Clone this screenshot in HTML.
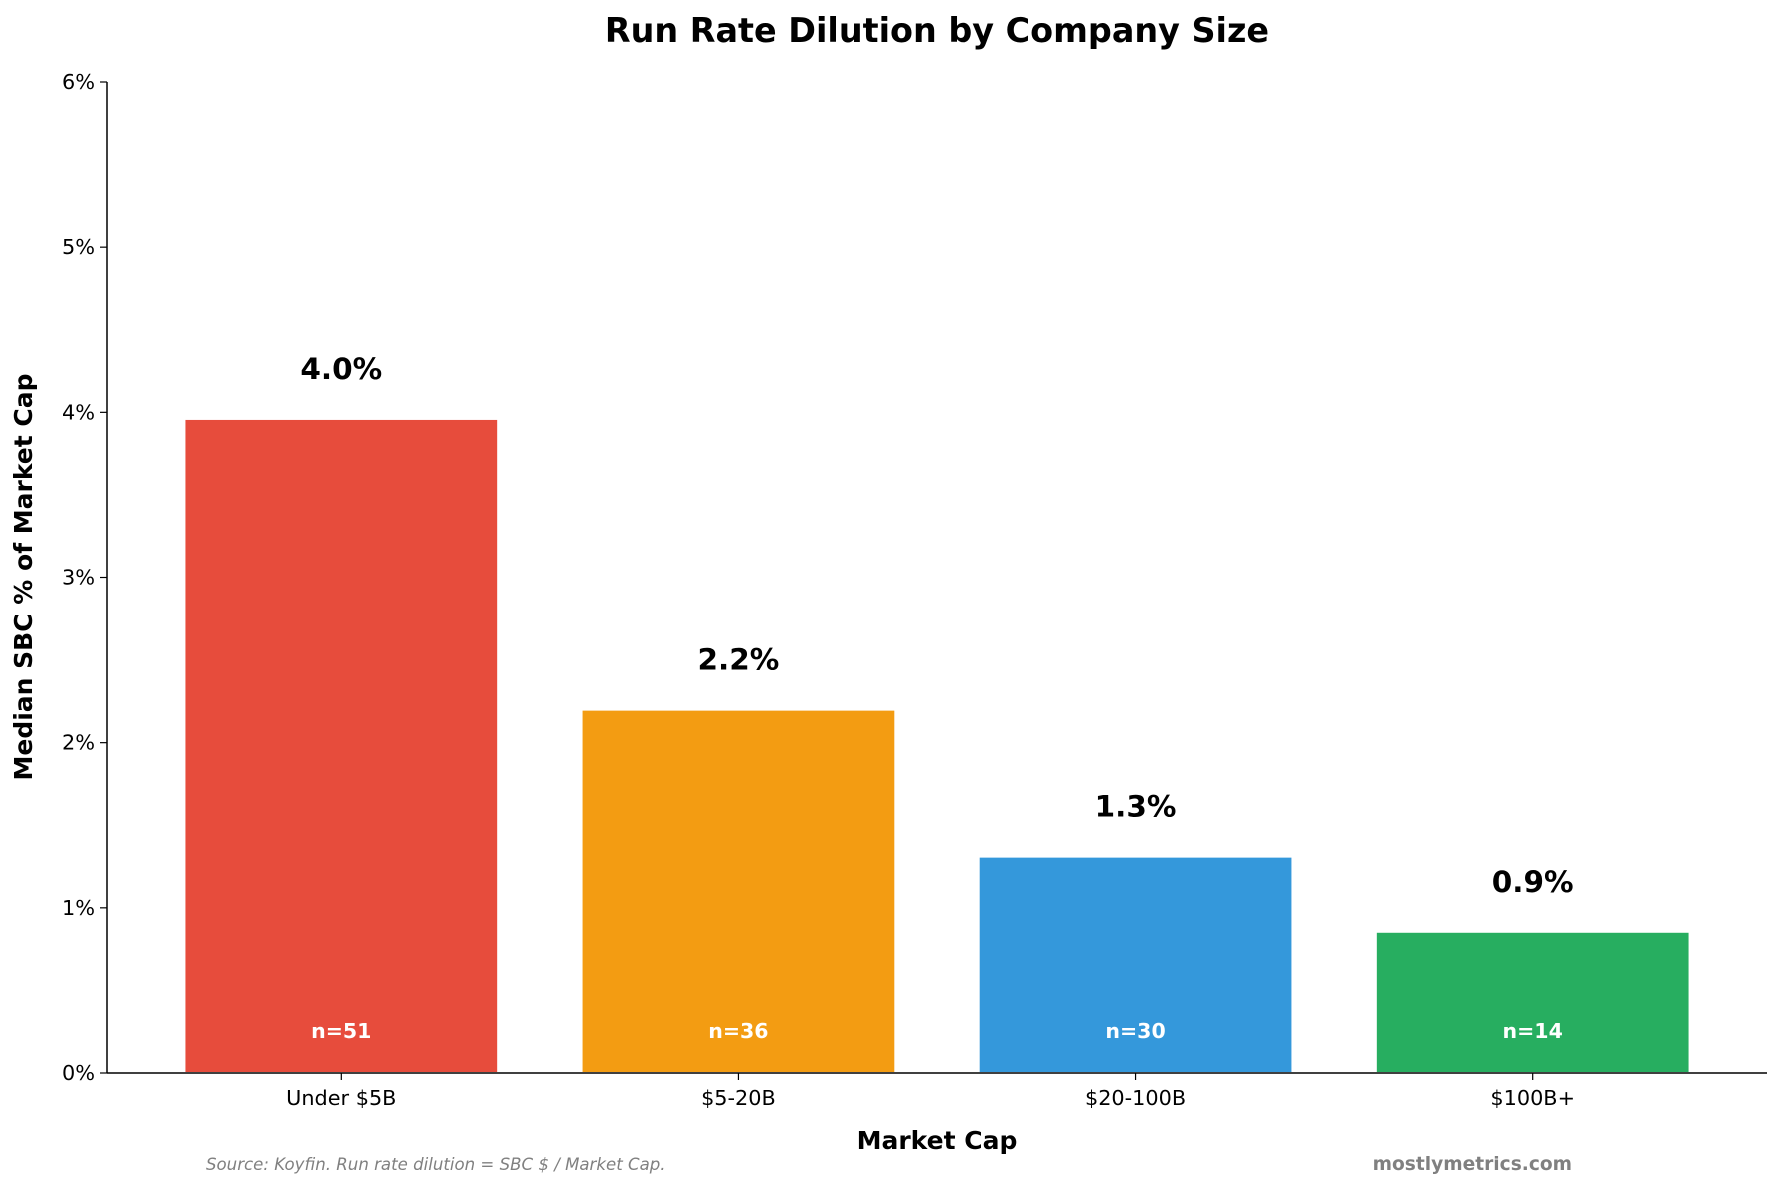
<!DOCTYPE html>
<html><head><meta charset="utf-8"><style>
html,body{margin:0;padding:0;background:#fff;}
svg text{font-family:"DejaVu Sans","Liberation Sans",sans-serif;}
</style></head><body>
<svg width="1782" height="1189" viewBox="0 0 1782 1189" xmlns="http://www.w3.org/2000/svg">
<text x="937" y="42" text-anchor="middle" font-size="33.4" font-weight="bold" fill="#000">Run Rate Dilution by Company Size</text>
<g id="plot"></g>
<text transform="translate(32,577) rotate(-90)" text-anchor="middle" font-size="25" font-weight="bold">Median SBC % of Market Cap</text>
<text x="937" y="1149" text-anchor="middle" font-size="25" font-weight="bold">Market Cap</text>
<text x="206" y="1170" font-size="16.6" font-style="italic" fill="#808080">Source: Koyfin. Run rate dilution = SBC $ / Market Cap.</text>
<text x="1572" y="1170" text-anchor="end" font-size="18.6" font-weight="bold" fill="#808080">mostlymetrics.com</text>
</svg>
<script>
const categories=["Under $5B","$5-20B","$20-100B","$100B+"];
const values=[3.96,2.2,1.31,0.855];
const valueLabels=["4.0%","2.2%","1.3%","0.9%"];
const counts=["n=51","n=36","n=30","n=14"];
const colors=["#e74c3c","#f39c12","#3498db","#27ae60"];
const yTicks=[0,1,2,3,4,5,6];
const NS="http://www.w3.org/2000/svg";
const L=107,R=1767,T=82,B=1073;
const xMin=-0.59,xMax=3.59,yMax=6;
const xs=v=>L+(v-xMin)/(xMax-xMin)*(R-L);
const ys=v=>B-v/yMax*(B-T);
const g=document.getElementById('plot');
function mk(t,a){const e=document.createElementNS(NS,t);for(const k in a)e.setAttribute(k,a[k]);return e;}
categories.forEach((c,i)=>{
  const x0=xs(i-0.395),x1=xs(i+0.395);
  const r=mk('rect',{x:x0,y:ys(values[i]),width:x1-x0,height:ys(0)-ys(values[i]),fill:colors[i],stroke:'#fff','stroke-width':2});
  
  
  g.appendChild(r);
  const vl=mk('text',{x:xs(i),y:ys(values[i])-40,'text-anchor':'middle','font-size':29.5,'font-weight':'bold'});
  vl.textContent=valueLabels[i];
  
  
  g.appendChild(vl);
  const nl=mk('text',{x:xs(i),y:ys(0)-35,'text-anchor':'middle','font-size':20.5,'font-weight':'bold',fill:'#fff'});
  nl.textContent=counts[i];
  
  
  g.appendChild(nl);
  const tk=mk('line',{x1:xs(i),x2:xs(i),y1:B,y2:B+7,stroke:'#000','stroke-width':1.2});
  
  
  g.appendChild(tk);
  const tl=mk('text',{x:xs(i),y:B+32,'text-anchor':'middle','font-size':20.8});
  tl.textContent=c;
  
  
  g.appendChild(tl);
});
yTicks.forEach(v=>{
  const tk=mk('line',{x1:L-7,x2:L,y1:ys(v),y2:ys(v),stroke:'#000','stroke-width':1.2});
  
  
  g.appendChild(tk);
  const tl=mk('text',{x:L-12,y:ys(v)+7,'text-anchor':'end','font-size':20.8});
  tl.textContent=v+'%';
  
  
  g.appendChild(tl);
});
const ya=mk('line',{x1:L,x2:L,y1:T,y2:B,stroke:'#000','stroke-width':1.5});


g.appendChild(ya);
const xa=mk('line',{x1:L,x2:R,y1:B,y2:B,stroke:'#000','stroke-width':1.5});


g.appendChild(xa);
</script>
</body></html>
